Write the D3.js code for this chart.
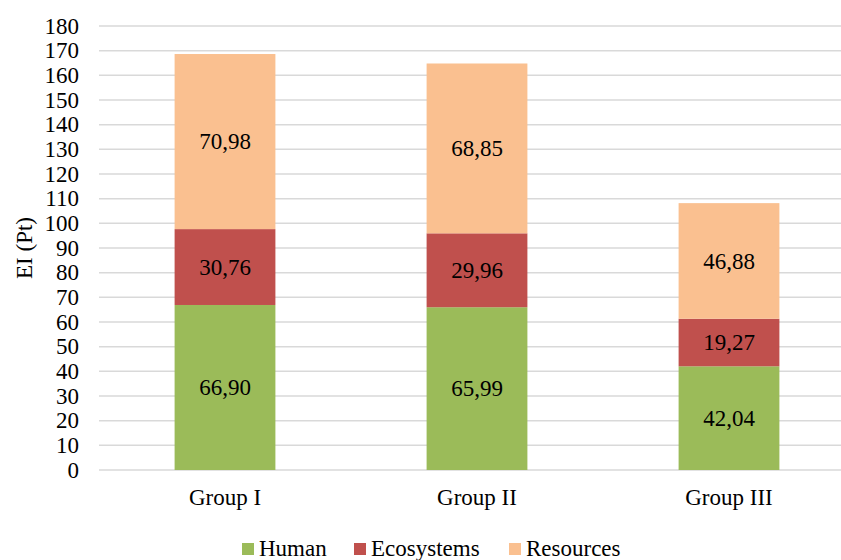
<!DOCTYPE html>
<html lang="en">
<head>
    <meta charset="UTF-8">
    <title>EI stacked bars</title>
    <script src="https://cdn.jsdelivr.net/npm/d3@7"></script>
    <style>
        body { margin: 0; background: #fff; }
    </style>
</head>
<body>
<script>
    // data
    var groups = ['Group I', 'Group II', 'Group III'];
    var human = [66.90, 65.99, 42.04];
    var ecosystems = [30.76, 29.96, 19.27];
    var resources = [70.98, 68.85, 46.88];
    var seriesNames = ['Human', 'Ecosystems', 'Resources'];
    var yTicks = d3.range(0, 181, 10);

    var colors = ['#9bbb59', '#c0504d', '#fac090'];
    var width = 841, height = 560;
    var margin = {top: 26, left: 99, bottom: 90};
    var fontSize = 23;

    var svg = d3.select('body').append('svg')
        .attr('width', width)
        .attr('height', height)
        .attr('font-family', "'Liberation Serif', 'Times New Roman', Times, serif")
        .style('font-family', "'Liberation Serif', 'Times New Roman', Times, serif");

    // build rows for d3.stack
    var rows = groups.map(function(g, i) {
        return {group: g, Human: human[i], Ecosystems: ecosystems[i], Resources: resources[i]};
    });
    var stacked = d3.stack().keys(seriesNames)(rows);

    var x = d3.scaleBand()
        .domain(groups)
        .range([margin.left, margin.left + 756])
        .paddingInner(0.6)
        .paddingOuter(0.3);

    var y = d3.scaleLinear()
        .domain([0, 180])
        .range([height - margin.bottom, margin.top]);

    // gridlines
    svg.append('g').selectAll('line')
        .data(yTicks)
        .enter().append('line')
        .attr('x1', margin.left)
        .attr('x2', margin.left + 756)
        .attr('y1', function(d) { return y(d); })
        .attr('y2', function(d) { return y(d); })
        .attr('stroke', '#d9d9d9')
        .attr('stroke-width', 1.5);

    // y tick labels
    svg.append('g').selectAll('text')
        .data(yTicks)
        .enter().append('text')
        .attr('x', 79)
        .attr('y', function(d) { return y(d); })
        .attr('dy', '0.33em')
        .attr('text-anchor', 'end')
        .attr('font-size', fontSize)
        .text(function(d) { return d; });

    // bars
    var layer = svg.append('g').selectAll('g')
        .data(stacked)
        .enter().append('g')
        .attr('fill', function(d, i) { return colors[i]; });

    layer.selectAll('rect')
        .data(function(d) { return d; })
        .enter().append('rect')
        .attr('x', function(d) { return x(d.data.group); })
        .attr('y', function(d) { return y(d[1]); })
        .attr('width', x.bandwidth())
        .attr('height', function(d) { return y(d[0]) - y(d[1]); });

    // value labels
    layer.selectAll('text')
        .data(function(d) { return d.map(function(p) { return {p: p, key: d.key}; }); })
        .enter().append('text')
        .attr('x', function(d) { return x(d.p.data.group) + x.bandwidth() / 2; })
        .attr('y', function(d) { return y((d.p[0] + d.p[1]) / 2); })
        .attr('dy', '0.33em')
        .attr('text-anchor', 'middle')
        .attr('font-size', fontSize)
        .attr('fill', '#000')
        .text(function(d) { return d.p.data[d.key].toFixed(2).replace('.', ','); });

    // category labels
    svg.append('g').selectAll('text')
        .data(groups)
        .enter().append('text')
        .attr('x', function(d) { return x(d) + x.bandwidth() / 2; })
        .attr('y', 505)
        .attr('text-anchor', 'middle')
        .attr('font-size', fontSize)
        .text(function(d) { return d; });

    // y axis title
    svg.append('text')
        .attr('transform', 'translate(32,' + y(90) + ') rotate(-90)')
        .attr('text-anchor', 'middle')
        .attr('font-size', fontSize)
        .text('EI (Pt)');

    // legend
    var legendX = [242, 354, 509];
    var legend = svg.append('g').selectAll('g')
        .data(seriesNames)
        .enter().append('g')
        .attr('transform', function(d, i) { return 'translate(' + legendX[i] + ',543)'; });
    legend.append('rect')
        .attr('width', 12)
        .attr('height', 12)
        .attr('fill', function(d, i) { return colors[i]; });
    legend.append('text')
        .attr('x', 17)
        .attr('y', 13)
        .attr('font-size', fontSize)
        .text(function(d) { return d; });
</script>
</body>
</html>
